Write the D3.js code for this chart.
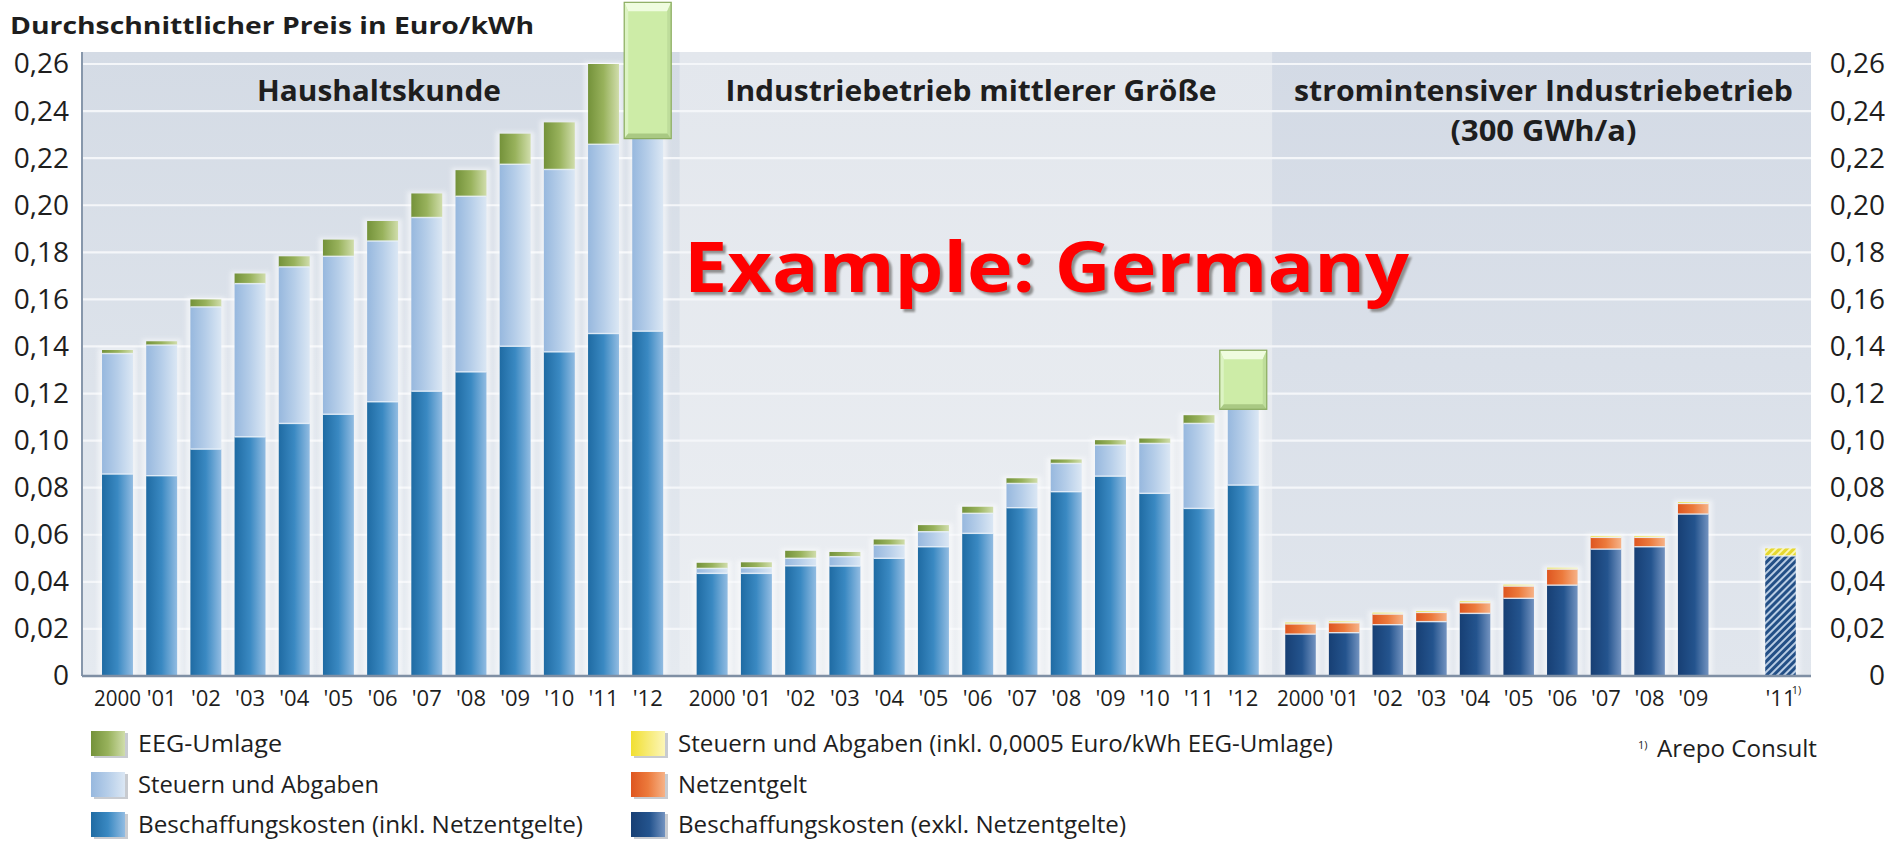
<!DOCTYPE html>
<html>
<head>
<meta charset="utf-8">
<script src="https://cdn.jsdelivr.net/npm/d3@7"></script>
<style>
  html, body { margin: 0; padding: 0; background: #fff; }
  svg { display: block; }
  text { font-family: "Open Sans", "DejaVu Sans", sans-serif; fill: #1e1e1e; }
</style>
</head>
<body>
<svg id="chart" width="1903" height="841"></svg>
<script>
// Durchschnittlicher Strompreis in Euro/kWh nach Kundengruppe

// Haushaltskunde
const hhYears = ["2000", "'01", "'02", "'03", "'04", "'05", "'06", "'07", "'08", "'09", "'10", "'11", "'12"];
const hhBeschaffung = [0.0858, 0.0851, 0.0964, 0.1016, 0.1073, 0.1112, 0.1165, 0.1210, 0.1292, 0.1401, 0.1377, 0.1455, 0.1465];
const hhSteuern     = [0.0512, 0.0555, 0.0604, 0.0651, 0.0665, 0.0671, 0.0683, 0.0738, 0.0746, 0.0773, 0.0775, 0.0804, 0.0818];
const hhEEG         = [0.0015, 0.0016, 0.0032, 0.0043, 0.0045, 0.0071, 0.0085, 0.0102, 0.0111, 0.0130, 0.0200, 0.0341, 0];
const hhEEGBox      = [0.2283, 0.2862];   // EEG-Umlage 2012, from .. to

// Industriebetrieb mittlerer Größe
const indYears = ["2000", "'01", "'02", "'03", "'04", "'05", "'06", "'07", "'08", "'09", "'10", "'11", "'12"];
const indBeschaffung = [0.0436, 0.0436, 0.0468, 0.0467, 0.0500, 0.0549, 0.0606, 0.0715, 0.0783, 0.0849, 0.0776, 0.0712, 0.0811];
const indSteuern     = [0.0021, 0.0024, 0.0032, 0.0040, 0.0056, 0.0064, 0.0085, 0.0103, 0.0120, 0.0132, 0.0212, 0.0361, 0.0322];
const indEEG         = [0.0024, 0.0023, 0.0032, 0.0020, 0.0024, 0.0028, 0.0028, 0.0022, 0.0017, 0.0021, 0.0021, 0.0035, 0];
const indEEGBox      = [0.1133, 0.1384];

// stromintensiver Industriebetrieb (300 GWh/a); no value for '10
const stromYears = ["2000", "'01", "'02", "'03", "'04", "'05", "'06", "'07", "'08", "'09", "'10", "'11"];
const stromBeschaffung = [0.0178, 0.0184, 0.0218, 0.0231, 0.0266, 0.0330, 0.0386, 0.0539, 0.0549, 0.0688, null, 0.0510];
const stromNetzentgelt = [0.0043, 0.0042, 0.0045, 0.0039, 0.0045, 0.0052, 0.0068, 0.0050, 0.0040, 0.0045, null, 0];
const stromSteuern     = [0.0006, 0.0006, 0.0006, 0.0006, 0.0006, 0.0006, 0.0006, 0.0006, 0.0006, 0.0006, null, 0.0032];
const stromEstimate    = [false, false, false, false, false, false, false, false, false, false, false, true];

const yTicks = [0, 0.02, 0.04, 0.06, 0.08, 0.10, 0.12, 0.14, 0.16, 0.18, 0.20, 0.22, 0.24, 0.26];

const groupTitles = [["Haushaltskunde"], ["Industriebetrieb mittlerer Größe"], ["stromintensiver Industriebetrieb", "(300 GWh/a)"]];
const legendLeft  = ["EEG-Umlage", "Steuern und Abgaben", "Beschaffungskosten (inkl. Netzentgelte)"];
const legendRight = ["Steuern und Abgaben (inkl. 0,0005 Euro/kWh EEG-Umlage)", "Netzentgelt", "Beschaffungskosten (exkl. Netzentgelte)"];

// ---------------------------------------------------------------
const svg = d3.select("#chart");
const defs = svg.append("defs");

function gradient(id, stops, vertical) {
  const g = defs.append("linearGradient").attr("id", id)
    .attr("x1", 0).attr("y1", 0).attr("x2", vertical ? 0 : 1).attr("y2", vertical ? 1 : 0);
  stops.forEach(([o, c]) => g.append("stop").attr("offset", o).attr("stop-color", c));
}
gradient("gBeschInkl", [[0, "#1f6ba3"], [0.5, "#3a89c2"], [1, "#92bce2"]]);
gradient("gSteuern",   [[0, "#97b8de"], [0.5, "#b6cee9"], [1, "#dbe7f4"]]);
gradient("gEEG",       [[0, "#74923a"], [0.5, "#98b25c"], [1, "#d0ddab"]]);
gradient("gBeschExkl", [[0, "#173f74"], [0.55, "#24548e"], [1, "#7393c0"]]);
gradient("gNetz",      [[0, "#de5620"], [0.5, "#ec7a3c"], [1, "#f6b287"]]);
gradient("gSteuernInkl", [[0, "#f1df30"], [1, "#fcf6b8"]]);
gradient("bgP1", [[0, "#d4dbe5"], [1, "#e5eaf0"]], true);
gradient("bgP2", [[0, "#e3e7ed"], [1, "#ebeef2"]], true);
gradient("bgP3", [[0, "#d3dae5"], [1, "#e1e6ed"]], true);

function hatch(id, bg, stripe) {
  const p = defs.append("pattern").attr("id", id).attr("patternUnits", "userSpaceOnUse")
    .attr("width", 5).attr("height", 5).attr("patternTransform", "rotate(45)");
  p.append("rect").attr("width", 5).attr("height", 5).attr("fill", bg);
  p.append("line").attr("x1", 1.5).attr("y1", 0).attr("x2", 1.5).attr("y2", 5)
    .attr("stroke", stripe).attr("stroke-width", 3);
}
hatch("hatchNavy", "#b9cce3", "#234f86");
hatch("hatchYellow", "#fbf6b0", "#e6d830");

const blur = defs.append("filter").attr("id", "soft").attr("x", "-50%").attr("y", "-10%").attr("width", "200%").attr("height", "120%");
blur.append("feGaussianBlur").attr("stdDeviation", 2.2);
const blurText = defs.append("filter").attr("id", "softText");
blurText.append("feGaussianBlur").attr("stdDeviation", 1.2);

// scales
const y = d3.scaleLinear().domain([0, 0.26]).range([676, 64]);
const plotLeft = 82, plotRight = 1811, plotTop = 52, plotBottom = 676;

const band = (domain, range) => d3.scaleBand().domain(domain).range(range).paddingInner(0.3).paddingOuter(0.15);
const xHH = band(hhYears, [95.4, 669.8]);
const xInd = band(indYears, [690, 1265.4]);
const xStrom = band(stromYears, [1278.7, 1802.3]);

const split1 = (xHH.range()[1] + xInd.range()[0]) / 2;
const split2 = (xInd.range()[1] + xStrom.range()[0]) / 2;
const panelExtents = [[plotLeft, split1, "bgP1"], [split1, split2, "bgP2"], [split2, plotRight, "bgP3"]];

// panel backgrounds
svg.append("g").selectAll("rect").data(panelExtents).join("rect")
  .attr("x", d => d[0]).attr("y", plotTop).attr("width", d => d[1] - d[0]).attr("height", plotBottom - plotTop)
  .attr("fill", d => `url(#${d[2]})`);

// grid lines
svg.append("g").selectAll("line").data(yTicks.filter(d => d > 0)).join("line")
  .attr("x1", plotLeft).attr("x2", plotRight).attr("y1", d => y(d)).attr("y2", d => y(d))
  .attr("stroke", "#f4f6f9").attr("stroke-width", 2.2);

// group titles
const titleWidths = [[244], [491], [499, 186]];
const titleBaselines = [101, 141];
groupTitles.forEach((lines, gi) => {
  const cx = (panelExtents[gi][0] + panelExtents[gi][1]) / 2 + [-2, -5, 2][gi];
  lines.forEach((t, li) => {
    const w = titleWidths[gi][li];
    svg.append("text").attr("x", cx - w / 2).attr("y", titleBaselines[li])
      .attr("font-size", 28).attr("font-weight", 700)
      .attr("textLength", w).attr("lengthAdjust", "spacingAndGlyphs").text(t);
  });
});

// stacked bars
function drawStack(x, rows, keys, fills, hatchFills) {
  const g = svg.append("g");
  const series = d3.stack().keys(keys)(rows);
  const bw = x.bandwidth();
  // soft light halo around each bar
  g.append("g").selectAll("rect").data(series[series.length - 1]).join("rect")
    .attr("x", d => x(d.data.year) - 4).attr("width", bw + 8)
    .attr("y", d => y(d[1]) - 2).attr("height", d => plotBottom - y(d[1]) + 2)
    .attr("fill", "#ffffff").attr("opacity", 0.55).attr("filter", "url(#soft)");
  series.forEach((layer, li) => {
    const segs = layer.filter(d => d[1] - d[0] > 0);
    g.append("g").selectAll("rect").data(segs).join("rect")
      .attr("x", d => x(d.data.year)).attr("width", bw)
      .attr("y", d => y(d[1])).attr("height", d => y(d[0]) - y(d[1]))
      .attr("fill", d => d.data.est && hatchFills ? hatchFills[li] : fills[li]);
    if (li > 0) {
      g.append("g").selectAll("line").data(segs).join("line")
        .attr("x1", d => x(d.data.year)).attr("x2", d => x(d.data.year) + bw)
        .attr("y1", d => y(d[0])).attr("y2", d => y(d[0]))
        .attr("stroke", "#eaf2fa").attr("stroke-width", 1.4).attr("opacity", 0.85);
    }
  });
  return g;
}

drawStack(xHH,
  hhYears.map((yr, i) => ({ year: yr, besch: hhBeschaffung[i], steuern: hhSteuern[i], eeg: hhEEG[i] })),
  ["besch", "steuern", "eeg"], ["url(#gBeschInkl)", "url(#gSteuern)", "url(#gEEG)"]);

drawStack(xInd,
  indYears.map((yr, i) => ({ year: yr, besch: indBeschaffung[i], steuern: indSteuern[i], eeg: indEEG[i] })),
  ["besch", "steuern", "eeg"], ["url(#gBeschInkl)", "url(#gSteuern)", "url(#gEEG)"]);

drawStack(xStrom,
  stromYears.map((yr, i) => ({ year: yr, besch: stromBeschaffung[i], netz: stromNetzentgelt[i], steuern: stromSteuern[i], est: stromEstimate[i] }))
    .filter(d => d.besch !== null),
  ["besch", "netz", "steuern"], ["url(#gBeschExkl)", "url(#gNetz)", "url(#gSteuernInkl)"],
  ["url(#hatchNavy)", "url(#gNetz)", "url(#hatchYellow)"]);

// bevelled EEG-Umlage 2012 boxes
function bevelBox(x, year, range) {
  const cx = x(year) + x.bandwidth() / 2, w = 47;
  const x0 = cx - w / 2, x1 = cx + w / 2, t = y(range[1]), b = y(range[0]);
  const bt = 9, bs = 4, bb = 5;
  const g = svg.append("g");
  g.append("rect").attr("x", x0).attr("y", t).attr("width", w).attr("height", b - t).attr("fill", "#cdeca7");
  const poly = (pts, fill) => g.append("polygon").attr("points", pts.map(p => p.join(",")).join(" ")).attr("fill", fill);
  poly([[x0, t], [x1, t], [x1 - bs, t + bt], [x0 + bs, t + bt]], "#effcdf");
  poly([[x0, t], [x0 + bs, t + bt], [x0 + bs, b - bb], [x0, b]], "#dcf3c3");
  poly([[x1, t], [x1 - bs, t + bt], [x1 - bs, b - bb], [x1, b]], "#bedd9b");
  poly([[x0, b], [x0 + bs, b - bb], [x1 - bs, b - bb], [x1, b]], "#a9c983");
  g.append("rect").attr("x", x0).attr("y", t).attr("width", w).attr("height", b - t)
    .attr("fill", "none").attr("stroke", "#8aab5f").attr("stroke-width", 1.2);
}
bevelBox(xHH, "'12", hhEEGBox);
bevelBox(xInd, "'12", indEEGBox);

// axes lines
svg.append("line").attr("x1", plotLeft).attr("x2", plotLeft).attr("y1", plotTop).attr("y2", plotBottom)
  .attr("stroke", "#8797ab").attr("stroke-width", 2);
svg.append("line").attr("x1", plotLeft).attr("x2", plotRight).attr("y1", plotBottom).attr("y2", plotBottom)
  .attr("stroke", "#7f8fa4").attr("stroke-width", 2.5);

// y axes, left and right
const fmt = d => d === 0 ? "0" : d.toFixed(2).replace(".", ",");
const styleAxis = g => {
  g.select(".domain").remove();
  g.selectAll("text").attr("font-size", 28).attr("font-family", "'Open Sans', sans-serif").attr("fill", "#1e1e1e");
};
svg.append("g").attr("transform", "translate(69,0)")
  .call(d3.axisLeft(y).tickValues(yTicks).tickFormat(fmt).tickSize(0).tickPadding(0))
  .call(styleAxis);
svg.append("g").attr("transform", "translate(1885,0)")
  .call(d3.axisRight(y).tickValues(yTicks).tickFormat(fmt).tickSize(0).tickPadding(0))
  .call(styleAxis)
  .call(g => g.selectAll("text").attr("text-anchor", "end").attr("x", 0));

// x axes
[xHH, xInd, xStrom].forEach((x, i) => {
  const g = svg.append("g").attr("transform", `translate(0,${plotBottom})`)
    .call(d3.axisBottom(x).tickSize(0).tickFormat(d => d === "'10" && i === 2 ? "" : d));
  g.select(".domain").remove();
  g.selectAll("text").attr("font-size", 22).attr("y", 30).attr("dy", 0)
    .attr("font-family", "'Open Sans', sans-serif").attr("fill", "#1e1e1e");
  g.selectAll(".tick text").filter(d => d === "2000").attr("textLength", 47).attr("lengthAdjust", "spacingAndGlyphs");
  if (i === 2) {
    g.selectAll(".tick").filter(d => d === "'11").each(function () {
      const tick = d3.select(this);
      const half = tick.select("text").node().getComputedTextLength() / 2;
      tick.append("text").attr("x", half + 1).attr("y", 18).attr("font-size", 11)
        .attr("fill", "#1e1e1e").text("1)");
    });
  }
});

// chart title
svg.append("text").attr("x", 10).attr("y", 34).attr("font-size", 24).attr("font-weight", 700)
  .attr("textLength", 524).attr("lengthAdjust", "spacingAndGlyphs")
  .text("Durchschnittlicher Preis in Euro/kWh");

// legend
const legendFills = [["url(#gEEG)", "url(#gSteuern)", "url(#gBeschInkl)"], ["url(#gSteuernInkl)", "url(#gNetz)", "url(#gBeschExkl)"]];
const legendWidths = [[144, 241, 445], [655, 129, 448]];
const rowCenters = [743, 784, 824];
[legendLeft, legendRight].forEach((items, ci) => {
  const sx = [91, 631][ci], tx = [138, 678][ci];
  items.forEach((label, ri) => {
    const cy = rowCenters[ri];
    svg.append("rect").attr("x", sx + 3).attr("y", cy - 12 + 2).attr("width", 34).attr("height", 25)
      .attr("fill", "#9aa1aa").attr("opacity", 0.55);
    svg.append("rect").attr("x", sx).attr("y", cy - 12).attr("width", 34).attr("height", 25)
      .attr("fill", legendFills[ci][ri]);
    svg.append("text").attr("x", tx).attr("y", cy + 8.5).attr("font-size", 23)
      .attr("textLength", legendWidths[ci][ri]).attr("lengthAdjust", "spacingAndGlyphs").text(label);
  });
});

// source note
svg.append("text").attr("x", 1638).attr("y", 749).attr("font-size", 11).text("1)");
svg.append("text").attr("x", 1657).attr("y", 757).attr("font-size", 23)
  .attr("textLength", 160).attr("lengthAdjust", "spacingAndGlyphs").text("Arepo Consult");

// overlay caption
const cap = svg.append("g").attr("font-family", "'Liberation Sans', Arial, sans-serif").attr("font-weight", 700);
cap.append("text").attr("x", 687).attr("y", 295).attr("font-size", 69)
  .attr("textLength", 725).attr("lengthAdjust", "spacingAndGlyphs")
  .style("fill", "#8f8f8f").attr("filter", "url(#softText)").text("Example: Germany");
cap.append("text").attr("x", 684).attr("y", 292).attr("font-size", 69)
  .attr("textLength", 725).attr("lengthAdjust", "spacingAndGlyphs")
  .style("fill", "#ff0000").text("Example: Germany");
</script>
</body>
</html>
